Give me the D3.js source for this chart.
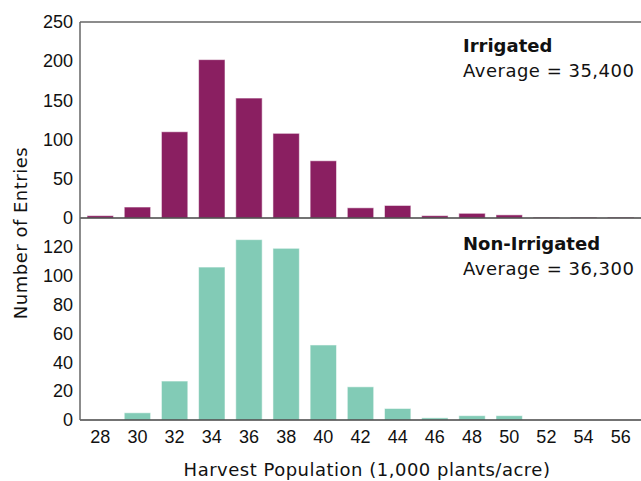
<!DOCTYPE html>
<html>
<head>
<meta charset="utf-8">
<script src="https://cdn.jsdelivr.net/npm/d3@7"></script>
<style>
  body { margin: 0; background: #fff; }
  svg { display: block; font-family: "DejaVu Sans", sans-serif; }
  .axis path, .axis line { stroke: #555; }
</style>
</head>
<body>
<svg id="chart" width="641" height="481"></svg>
<script>
// data
const populations = ["28","30","32","34","36","38","40","42","44","46","48","50","52","54","56"];
const irrigated = [3, 14, 110, 202, 153, 108, 73, 13, 16, 3, 6, 4, 1, 1, 1];
const nonIrrigated = [0, 5, 27, 106, 125, 119, 52, 23, 8, 1.5, 3, 3, 0, 0, 0];
const irrigatedTicks = [0, 50, 100, 150, 200, 250];
const nonIrrigatedTicks = [0, 20, 40, 60, 80, 100, 120];

const svg = d3.select("#chart");
const left = 80, right = 641;
const topPanel = { y0: 22, y1: 218, max: 250 };
const botPanel = { y0: 218, y1: 420, max: 140 };
const fontSize = "18px";
const spacing = "0.5px";

const x = d3.scaleBand()
  .domain(populations)
  .range([left, right])
  .paddingInner(0.29)
  .paddingOuter(0.19);

const yTop = d3.scaleLinear().domain([0, topPanel.max]).range([topPanel.y1, topPanel.y0]);
const yBot = d3.scaleLinear().domain([0, botPanel.max]).range([botPanel.y1, botPanel.y0]);

function drawPanel(values, y, color, ticks, title, avg, titleY) {
  const g = svg.append("g");

  g.selectAll("rect")
    .data(values)
    .enter()
    .append("rect")
    .attr("x", function (d, i) { return x(populations[i]); })
    .attr("width", x.bandwidth())
    .attr("y", function (d) { return y(d); })
    .attr("height", function (d) { return y(0) - y(d); })
    .attr("fill", color)
    .attr("stroke", "#fff")
    .attr("stroke-opacity", 0.55)
    .attr("stroke-width", 1);

  const ax = g.append("g")
    .attr("class", "axis")
    .attr("transform", "translate(" + left + ",0)")
    .call(d3.axisLeft(y).tickValues(ticks).tickSize(0).tickPadding(7));
  ax.select(".domain").remove();
  ax.selectAll("text")
    .attr("fill", "#111")
    .style("font-size", fontSize);

  // baseline
  g.append("line")
    .attr("x1", left).attr("x2", right)
    .attr("y1", y(0)).attr("y2", y(0))
    .attr("stroke", "#444")
    .attr("stroke-width", 1.5);

  g.append("text")
    .attr("x", 463)
    .attr("y", titleY)
    .attr("fill", "#111")
    .style("font-size", fontSize)
    .style("font-weight", "bold")
    .text(title);
  g.append("text")
    .attr("x", 463)
    .attr("y", titleY + 25)
    .attr("fill", "#111")
    .style("font-size", fontSize)
    .style("letter-spacing", spacing)
    .text(avg);
}

drawPanel(irrigated, yTop, "#8A1F61", irrigatedTicks, "Irrigated", "Average = 35,400", 52);
drawPanel(nonIrrigated, yBot, "#82CBB6", nonIrrigatedTicks, "Non-Irrigated", "Average = 36,300", 250);

// frame: top line and left axis
svg.append("line")
  .attr("x1", left).attr("x2", right)
  .attr("y1", topPanel.y0).attr("y2", topPanel.y0)
  .attr("stroke", "#666").attr("stroke-width", 1.5);
svg.append("line")
  .attr("x1", left).attr("x2", left)
  .attr("y1", topPanel.y0).attr("y2", botPanel.y1)
  .attr("stroke", "#666").attr("stroke-width", 1.5);

// x axis
const xAxis = svg.append("g")
  .attr("class", "axis")
  .attr("transform", "translate(0," + botPanel.y1 + ")")
  .call(d3.axisBottom(x).tickSize(0).tickPadding(10));
xAxis.select(".domain").remove();
xAxis.selectAll("text")
  .attr("fill", "#111")
  .style("font-size", fontSize);

svg.append("text")
  .attr("x", 367)
  .attr("y", 476)
  .attr("text-anchor", "middle")
  .attr("fill", "#111")
  .style("font-size", fontSize)
  .style("letter-spacing", spacing)
  .text("Harvest Population (1,000 plants/acre)");

svg.append("text")
  .attr("transform", "translate(27,233) rotate(-90)")
  .attr("text-anchor", "middle")
  .attr("fill", "#111")
  .style("font-size", fontSize)
  .style("letter-spacing", spacing)
  .text("Number of Entries");
</script>
</body>
</html>
